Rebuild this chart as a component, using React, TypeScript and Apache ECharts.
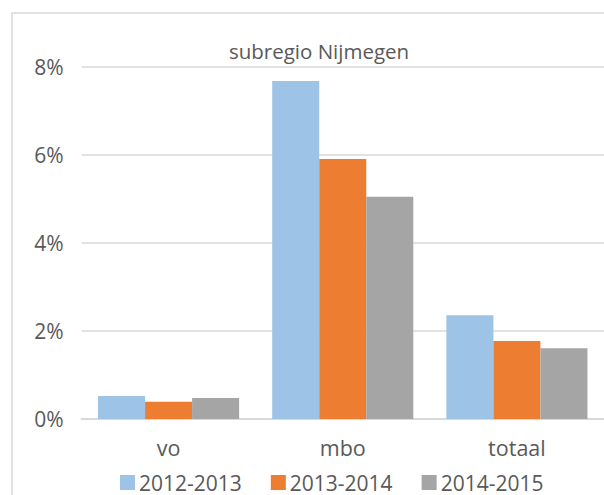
import React, { useEffect, useRef } from "react";
import * as echarts from "echarts";

const categories = ["vo", "mbo", "totaal"];
const seriesNames = ["2012-2013", "2013-2014", "2014-2015"];
const values2012 = [0.52, 7.68, 2.36];
const values2013 = [0.39, 5.91, 1.77];
const values2014 = [0.48, 5.05, 1.61];
const colors = ["#9DC3E6", "#ED7D31", "#A5A5A5"];
const titleText = "subregio Nijmegen";

const FONT = "'Open Sans', sans-serif";

export default function App() {
  const ref = useRef<HTMLDivElement>(null);
  useEffect(() => {
    if (!ref.current) return;
    const chart = echarts.init(ref.current, null, { renderer: "svg" });
    const data = [values2012, values2013, values2014];
    chart.setOption({
      animation: false,
      backgroundColor: "#ffffff",
      title: {
        text: titleText,
        left: 314,
        textAlign: "center",
        top: 35,
        textStyle: { fontFamily: FONT, fontSize: 20.5, fontWeight: "normal", color: "#595959" },
      },
      graphic: [
        {
          type: "rect",
          shape: { x: 12, y: 13, width: 640, height: 520 },
          style: { fill: "none", stroke: "#d9d9d9", lineWidth: 1.5 },
          silent: true,
        },
      ],
      legend: {
        top: 467,
        left: 115,
        orient: "horizontal",
        itemWidth: 15,
        itemHeight: 15,
        itemGap: 29,
        icon: "rect",
        textStyle: { fontFamily: FONT, fontSize: 21, color: "#595959", padding: [0, 0, 0, -1] },
        data: seriesNames,
      },
      grid: { left: 81.5, right: -5.5, top: 67, bottom: 76, containLabel: false },
      xAxis: {
        type: "category",
        data: categories,
        axisLine: { show: true, lineStyle: { color: "#d9d9d9", width: 2 } },
        axisTick: { show: false },
        axisLabel: { fontFamily: FONT, fontSize: 21.5, color: "#595959", margin: 17 },
      },
      yAxis: {
        type: "value",
        min: 0,
        max: 8,
        interval: 2,
        axisLine: { show: false },
        axisTick: { show: false },
        splitLine: { lineStyle: { color: "#d9d9d9", width: 1.5 } },
        axisLabel: {
          fontFamily: FONT,
          fontSize: 21,
          color: "#595959",
          margin: 18,
          formatter: (v: number) => v + "%",
        },
      },
      series: seriesNames.map((name, i) => ({
        name,
        type: "bar",
        data: data[i],
        barGap: "0%",
        barCategoryGap: "19%",
        itemStyle: { color: colors[i] },
      })),
    });
    return () => chart.dispose();
  }, []);
  return (
    <div
      ref={ref}
      style={{ position: "absolute", left: 0, top: 0, width: 604, height: 495 }}
    />
  );
}
